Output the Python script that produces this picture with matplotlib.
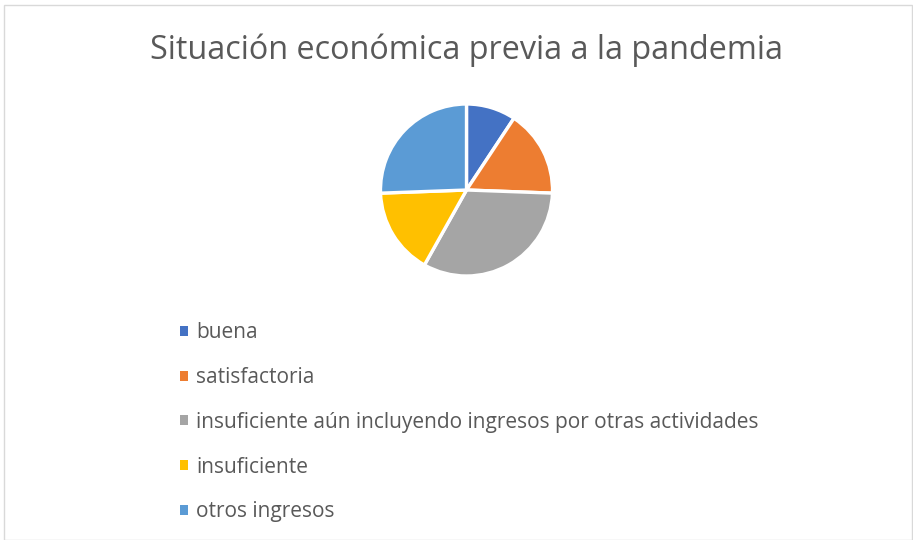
import matplotlib
matplotlib.use("Agg")
import matplotlib.pyplot as plt
from matplotlib.patches import Patch, Rectangle

categories = ["buena", "satisfactoria",
              "insuficiente aún incluyendo ingresos por otras actividades",
              "insuficiente", "otros ingresos"]
values = [4, 7, 14, 7, 11]
colors = ["#4472C4", "#ED7D31", "#A5A5A5", "#FFC000", "#5B9BD5"]
title = "Situación económica previa a la pandemia"

plt.rcParams['font.family'] = ['Open Sans', 'DejaVu Sans']

W, H = 913, 540
fig = plt.figure(figsize=(W/100, H/100), dpi=100)
fig.patches.append(Rectangle((4/W, 0), (W-5)/W, (H-4.5)/H, transform=fig.transFigure,
                             fill=False, edgecolor="#D9D9D9", linewidth=1))

cx, cy, r = 466.5, 190, 86
ax = fig.add_axes([(cx-r)/W, 1-(cy+r)/H, 2*r/W, 2*r/H])
ax.pie(values, colors=colors, startangle=90, counterclock=False,
       wedgeprops=dict(edgecolor="white", linewidth=2.4))
ax.set_xlim(-1, 1)
ax.set_ylim(-1, 1)
ax.set_aspect("equal")

fig.text(466/W, 1-50/H, title, ha="center", va="center", fontsize=23.3, color="#595959")

handles = [Patch(facecolor=c, edgecolor="none") for c in colors]
leg = fig.legend(handles, categories, loc="upper left", bbox_to_anchor=(172/W, 1-314/H),
                 frameon=False, fontsize=15, labelcolor="#595959",
                 handlelength=0.35, handleheight=0.35, handletextpad=0.4,
                 labelspacing=1.14, borderaxespad=0)

fig.savefig("out.png", dpi=100)
